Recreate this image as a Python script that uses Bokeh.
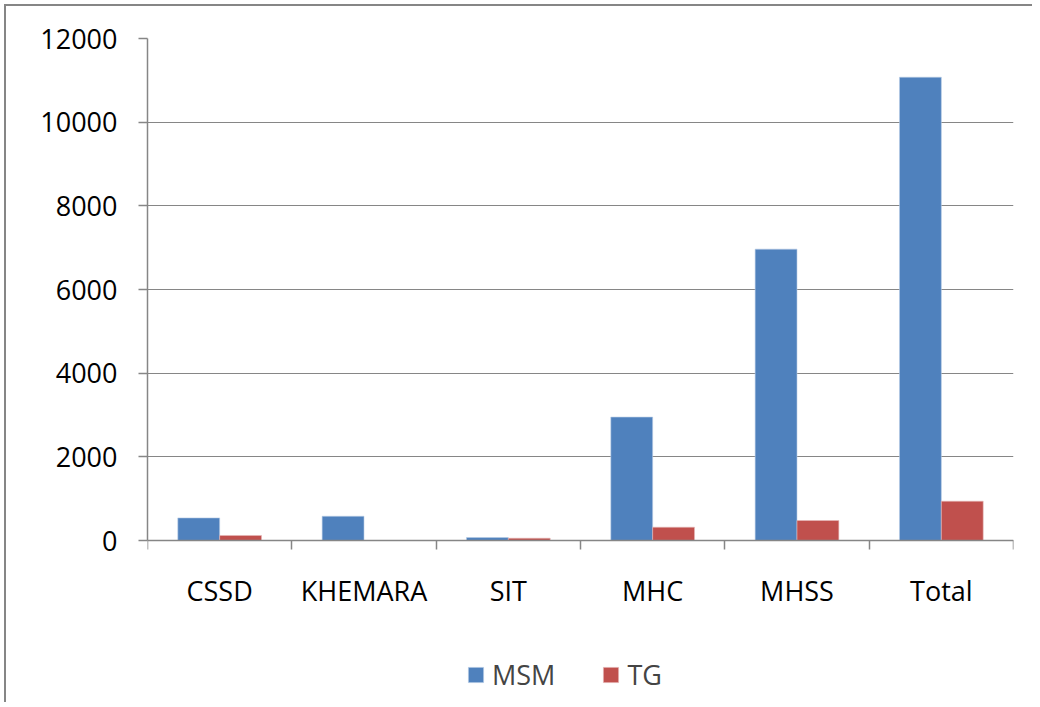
import numpy as np
from bokeh.plotting import figure
from bokeh.models import (ColumnDataSource, FixedTicker, Range1d, Legend, LegendItem)
from bokeh.embed import file_html
from bokeh.resources import INLINE

categories = ["CSSD", "KHEMARA", "SIT", "MHC", "MHSS", "Total"]
msm = [540, 580, 70, 2950, 6965, 11075]
tg = [120, 0, 55, 318, 478, 940]
y_ticks = [0, 2000, 4000, 6000, 8000, 10000, 12000]
y_max = 12000

FONT = "Open Sans"
GRAY = "#868686"
FS = "27px"

# layout (pixels): value area 502px tall, plus room under it for labels & legend
AREA_H = 502
EXTRA_H = 162
y_start = -y_max * EXTRA_H / AREA_H

idx = np.arange(len(categories))
src = ColumnDataSource(dict(
    x_msm=idx + 0.5 - 0.145,
    x_tg=idx + 0.5 + 0.145,
    msm=msm, tg=tg,
))

p = figure(frame_width=866, frame_height=AREA_H + EXTRA_H, output_backend="svg",
           toolbar_location=None,
           x_range=Range1d(0, len(categories)), y_range=Range1d(y_start, y_max),
           min_border_left=141, min_border_top=32, min_border_right=19,
           min_border_bottom=0)
p.outline_line_color = None
p.styles = {"border-left": "2px solid #868686", "border-top": "2px solid #868686",
            "margin-left": "4px", "margin-top": "4px"}

r1 = p.vbar(x="x_msm", top="msm", width=0.29, source=src,
            fill_color="#4F81BD", line_color="#B9CDE5", line_width=0.6)
r2 = p.vbar(x="x_tg", top="tg", width=0.29, source=src,
            fill_color="#C0504D", line_color="#E6B9B8", line_width=0.6)

# y axis
p.yaxis.ticker = FixedTicker(ticks=y_ticks)
p.yaxis.bounds = (0, y_max)
p.yaxis.axis_line_color = GRAY
p.yaxis.axis_line_width = 1.5
p.yaxis.major_tick_line_color = GRAY
p.yaxis.major_tick_line_width = 1.5
p.yaxis.major_tick_out = 9
p.yaxis.major_tick_in = 0
p.yaxis.minor_tick_line_color = None
p.yaxis.major_label_standoff = 21
p.yaxis.major_label_text_font = FONT
p.yaxis.major_label_text_font_size = FS
p.yaxis.major_label_text_color = "#000000"

# x axis at y = 0: labels at centres, ticks at category boundaries
centers = [i + 0.5 for i in range(len(categories))]
p.xaxis.fixed_location = 0
p.xaxis.ticker = FixedTicker(ticks=centers, minor_ticks=list(range(len(categories) + 1)))
p.xaxis.major_label_overrides = {c: lab for c, lab in zip(centers, categories)}
p.xaxis.major_tick_line_color = None
p.xaxis.major_tick_out = 0
p.xaxis.major_tick_in = 0
p.xaxis.minor_tick_line_color = GRAY
p.xaxis.minor_tick_line_width = 1.5
p.xaxis.minor_tick_out = 9
p.xaxis.minor_tick_in = 0
p.xaxis.axis_line_color = GRAY
p.xaxis.axis_line_width = 1.5
p.xaxis.major_label_standoff = 22
p.xaxis.major_label_text_font = FONT
p.xaxis.major_label_text_font_size = FS
p.xaxis.major_label_text_color = "#000000"

p.xgrid.grid_line_color = None
p.ygrid.ticker = FixedTicker(ticks=y_ticks)
p.ygrid.grid_line_color = GRAY
p.ygrid.grid_line_width = 1.2

legend = Legend(items=[LegendItem(label="MSM", renderers=[r1]),
                       LegendItem(label="TG", renderers=[r2])],
                orientation="horizontal", location=(319, 9))
legend.label_text_font = FONT
legend.label_text_font_size = FS
legend.glyph_width = 19
legend.glyph_height = 19
legend.spacing = 46
legend.label_standoff = 7
legend.border_line_color = None
legend.background_fill_alpha = 0
legend.margin = 0
legend.padding = 0
p.add_layout(legend, "center")

open("out.html", "w").write(file_html(p, INLINE))
